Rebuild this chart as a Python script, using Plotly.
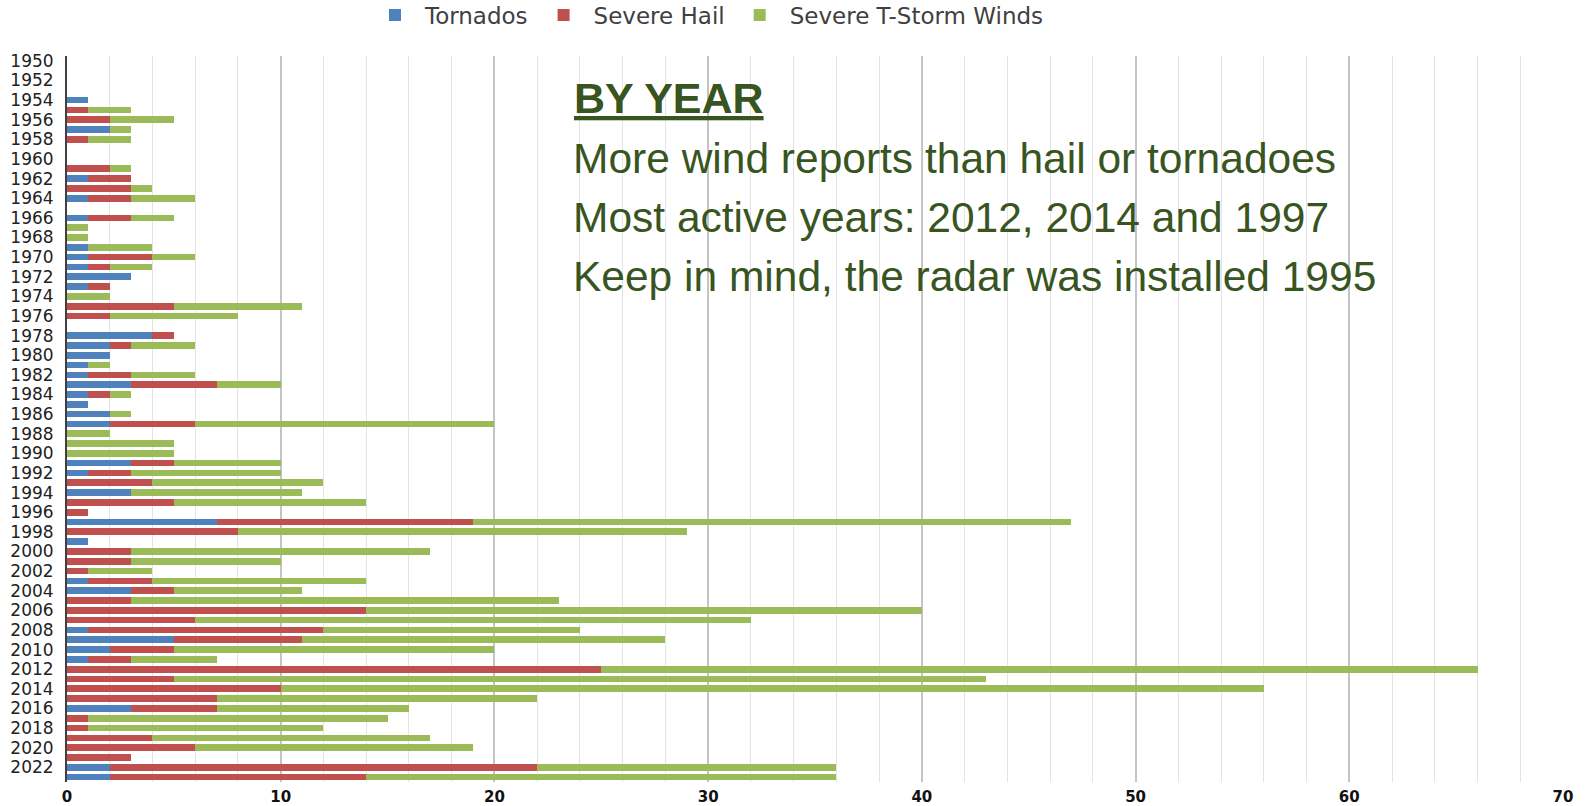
import plotly.graph_objects as go

years = list(range(1950, 2024))

tornados = [0, 0, 0, 0, 1, 0, 0, 2, 0, 0,
            0, 0, 1, 0, 1, 0, 1, 0, 0, 1,
            1, 1, 3, 1, 0, 0, 0, 0, 4, 2,
            2, 1, 1, 3, 1, 1, 2, 2, 0, 0,
            0, 3, 1, 0, 3, 0, 0, 7, 0, 1,
            0, 0, 0, 1, 3, 0, 0, 0, 1, 5,
            2, 1, 0, 0, 0, 0, 3, 0, 0, 0,
            0, 0, 2, 2]

hail = [0, 0, 0, 0, 0, 1, 2, 0, 1, 0,
        0, 2, 2, 3, 2, 0, 2, 0, 0, 0,
        3, 1, 0, 1, 0, 5, 2, 0, 1, 1,
        0, 0, 2, 4, 1, 0, 0, 4, 0, 0,
        0, 2, 2, 4, 0, 5, 1, 12, 8, 0,
        3, 3, 1, 3, 2, 3, 14, 6, 11, 6,
        3, 2, 25, 5, 10, 7, 4, 1, 1, 4,
        6, 3, 20, 12]

winds = [0, 0, 0, 0, 0, 2, 3, 1, 2, 0,
         0, 1, 0, 1, 3, 0, 2, 1, 1, 3,
         2, 2, 0, 0, 2, 6, 6, 0, 0, 3,
         0, 1, 3, 3, 1, 0, 1, 14, 2, 5,
         5, 5, 7, 8, 8, 9, 0, 28, 21, 0,
         14, 7, 3, 10, 6, 20, 26, 26, 12, 17,
         15, 4, 41, 38, 46, 15, 9, 14, 11, 13,
         13, 0, 14, 22]

series_names = ["Tornados", "Severe Hail", "Severe T-Storm Winds"]
series_colors = ["#4F81BD", "#C0504D", "#9BBB59"]
tick_years = list(range(1950, 2023, 2))
x_ticks = [0, 10, 20, 30, 40, 50, 60, 70]

notes_title = "BY YEAR"
notes_lines = [
    "More wind reports than hail or tornadoes",
    "Most active years: 2012, 2014 and 1997",
    "Keep in mind, the radar was installed 1995",
]

fig = go.Figure()
for name, vals, col in zip(series_names, [tornados, hail, winds], series_colors):
    fig.add_trace(go.Bar(
        y=years, x=vals, name=name, orientation="h",
        marker=dict(color=col, line=dict(width=0)),
    ))

W, H = 1587, 806
ml, mr, mt, mb = 67, 24, 56, 24
pw, ph = W - ml - mr, H - mt - mb

def px_to_paper_y(py):
    return 1 - (py - mt) / ph

def px_to_paper_x(px):
    return (px - ml) / pw

green_txt = "#38541F"
anns = [dict(
    text=notes_title, xref="paper", yref="paper",
    x=px_to_paper_x(572), y=px_to_paper_y(98), xanchor="left", yanchor="middle",
    showarrow=False,
    font=dict(family="Liberation Sans, Arial, sans-serif", size=43, color=green_txt,
              weight="bold", lineposition="under"),
)]
for i, line in enumerate(notes_lines):
    anns.append(dict(
        text=line, xref="paper", yref="paper",
        x=px_to_paper_x(571), y=px_to_paper_y(159 + i * 58.5), xanchor="left", yanchor="middle",
        showarrow=False,
        font=dict(family="Liberation Sans, Arial, sans-serif", size=42.5, color=green_txt),
    ))

fig.update_layout(
    width=W, height=H,
    margin=dict(l=ml, r=mr, t=mt, b=mb, pad=0, autoexpand=False),
    barmode="stack", bargap=0.32,
    plot_bgcolor="white", paper_bgcolor="white",
    showlegend=True,
    legend=dict(orientation="h", x=px_to_paper_x(707), xanchor="center",
                y=px_to_paper_y(15), yanchor="middle", traceorder="normal",
                itemwidth=50,
                font=dict(family="DejaVu Sans, sans-serif", size=23, color="#404040"),
                bgcolor="rgba(0,0,0,0)"),
    annotations=anns,
    xaxis=dict(
        range=[0, 70], tickvals=x_ticks, showgrid=True,
        gridcolor="#C4C4C4", gridwidth=1.5,
        minor=dict(dtick=2, showgrid=True, gridcolor="#E4E4E4", gridwidth=1),
        zeroline=False, showline=False, automargin=False,
        ticks="outside", ticklen=1, tickcolor="rgba(0,0,0,0)",
        tickfont=dict(family="DejaVu Sans, sans-serif", size=15, color="#111111", weight="bold"),
    ),
    yaxis=dict(
        range=[2023.5, 1949.5], tickvals=tick_years, ticktext=[str(y) for y in tick_years],
        showgrid=False, zeroline=False, automargin=False,
        showline=True, linecolor="#404040", linewidth=2,
        ticks="outside", ticklen=8, tickcolor="rgba(0,0,0,0)",
        tickfont=dict(family="DejaVu Sans, sans-serif", size=17, color="#222222"),
    ),
)

fig.write_html(
    "out.html",
    config={"displayModeBar": False},
    post_script="document.body.style.margin='0';document.body.style.overflow='hidden';",
)
